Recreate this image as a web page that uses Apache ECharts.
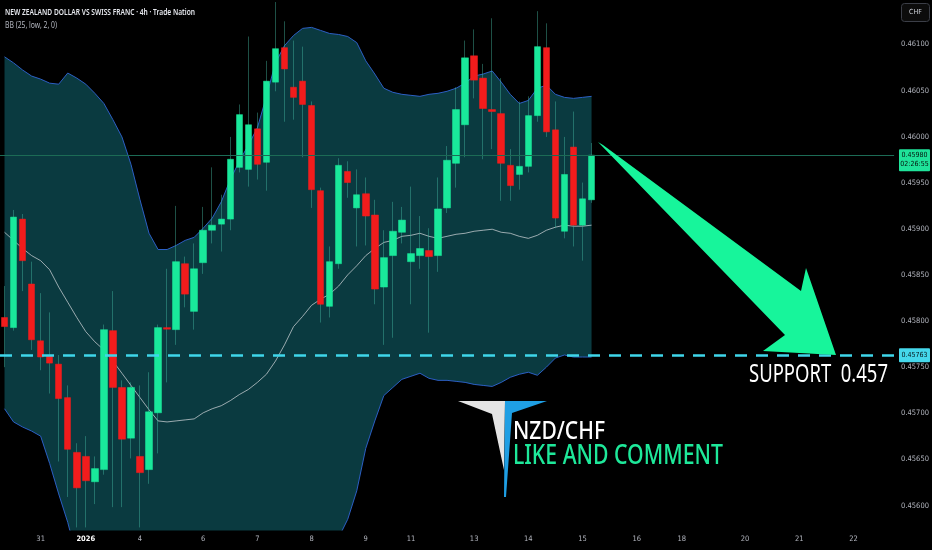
<!DOCTYPE html>
<html>
<head>
<meta charset="utf-8">
<script src="https://cdn.jsdelivr.net/npm/echarts@6/dist/echarts.min.js"></script>
<style>
  html, body { margin: 0; padding: 0; background: #000; }
  #chart { width: 932px; height: 550px; }
</style>
</head>
<body>
<div id="chart"></div>
<script>
// NZD/CHF 4h candles
var openP = [0.458040, 0.457930, 0.459107, 0.458403, 0.457787, 0.457622, 0.457534, 0.457171, 0.456577, 0.456533,
    0.456258, 0.456390, 0.457897, 0.457281, 0.456731, 0.456533, 0.456390, 0.457006, 0.457930, 0.457908,
    0.458623, 0.458106, 0.458634, 0.458986, 0.459052, 0.459107, 0.459668, 0.459646, 0.460086, 0.459723,
    0.460592, 0.460966, 0.460537, 0.460603, 0.460339, 0.459415, 0.458161, 0.458623, 0.459624, 0.459228,
    0.459382, 0.459151, 0.458370, 0.458711, 0.458964, 0.458645, 0.458711, 0.458766, 0.458711, 0.459228,
    0.459712, 0.460130, 0.460878, 0.460636, 0.460295, 0.460251, 0.459690, 0.459591, 0.459679, 0.460229,
    0.460966, 0.460075, 0.458975, 0.459888, 0.459041, 0.459316];
var closeP = [0.457941, 0.459129, 0.458656, 0.457798, 0.457611, 0.457545, 0.457160, 0.456610, 0.456192, 0.456269,
    0.456401, 0.457908, 0.457281, 0.456720, 0.457281, 0.456357, 0.457017, 0.457930, 0.457913, 0.458645,
    0.458293, 0.458568, 0.458986, 0.459041, 0.459107, 0.459756, 0.460240, 0.460130, 0.459701, 0.460603,
    0.460955, 0.460735, 0.460427, 0.460350, 0.459426, 0.458183, 0.458645, 0.459690, 0.459503, 0.459371,
    0.459140, 0.458348, 0.458689, 0.458975, 0.459096, 0.458733, 0.458788, 0.458700, 0.459217, 0.459745,
    0.460295, 0.460856, 0.460614, 0.460306, 0.460273, 0.459712, 0.459470, 0.459679, 0.460229, 0.460977,
    0.460053, 0.459118, 0.459591, 0.459041, 0.459327, 0.459800];
var highP = [0.458381, 0.459206, 0.459162, 0.458645, 0.458304, 0.458095, 0.457633, 0.457303, 0.456676, 0.456753,
    0.456533, 0.457963, 0.458326, 0.457358, 0.457336, 0.457303, 0.457446, 0.457963, 0.458568, 0.459250,
    0.458700, 0.458843, 0.459239, 0.459668, 0.459371, 0.459998, 0.460350, 0.461087, 0.460262, 0.460823,
    0.461461, 0.461252, 0.461043, 0.460977, 0.460383, 0.459448, 0.458810, 0.459767, 0.459734, 0.459646,
    0.459558, 0.459316, 0.458986, 0.459294, 0.459239, 0.459459, 0.459140, 0.459008, 0.459558, 0.459899,
    0.460537, 0.461043, 0.461164, 0.460790, 0.461285, 0.460636, 0.459866, 0.460383, 0.460438, 0.461362,
    0.461230, 0.460383, 0.459998, 0.460273, 0.459503, 0.459932];
var lowP = [0.457501, 0.457897, 0.458326, 0.457688, 0.457468, 0.457215, 0.456478, 0.456093, 0.455763, 0.455763,
    0.456016, 0.456335, 0.455983, 0.455983, 0.456511, 0.455763, 0.456236, 0.456566, 0.457336, 0.457743,
    0.458150, 0.457908, 0.458513, 0.458843, 0.458755, 0.458986, 0.459613, 0.459459, 0.459536, 0.459415,
    0.460493, 0.460163, 0.460185, 0.459778, 0.459228, 0.457985, 0.458040, 0.458568, 0.459338, 0.458810,
    0.458821, 0.458183, 0.457743, 0.457820, 0.458843, 0.458183, 0.458568, 0.457875, 0.458535, 0.459173,
    0.459448, 0.459778, 0.460416, 0.459756, 0.459866, 0.459305, 0.459305, 0.459426, 0.459613, 0.460163,
    0.459998, 0.459008, 0.458898, 0.458810, 0.458656, 0.459283];

// Bollinger bands BB(25, low, 2, 0)
var bbUpper = [0.460867, 0.460801, 0.460724, 0.460658, 0.460625, 0.460581, 0.460570, 0.460691, 0.460636, 0.460570,
    0.460471, 0.460361, 0.460185, 0.459998, 0.459701, 0.459316, 0.458953, 0.458777, 0.458777, 0.458821,
    0.458876, 0.458909, 0.459008, 0.459118, 0.459294, 0.459536, 0.459734, 0.459910, 0.460097, 0.460438,
    0.460801, 0.460988, 0.461098, 0.461175, 0.461186, 0.461153, 0.461120, 0.461109, 0.461087, 0.461021,
    0.460823, 0.460680, 0.460526, 0.460482, 0.460460, 0.460449, 0.460438, 0.460460, 0.460471, 0.460493,
    0.460526, 0.460581, 0.460658, 0.460680, 0.460713, 0.460592, 0.460460, 0.460361, 0.460394, 0.460526,
    0.460559, 0.460460, 0.460427, 0.460416, 0.460427, 0.460438];
var bbMid = [0.458964, 0.458876, 0.458788, 0.458711, 0.458656, 0.458557, 0.458370, 0.458205, 0.458040, 0.457886,
    0.457776, 0.457688, 0.457567, 0.457435, 0.457303, 0.457171, 0.457039, 0.456918, 0.456907, 0.456918,
    0.456929, 0.456940, 0.457006, 0.457050, 0.457083, 0.457138, 0.457204, 0.457259, 0.457336, 0.457424,
    0.457567, 0.457743, 0.457941, 0.458051, 0.458172, 0.458238, 0.458293, 0.458381, 0.458502, 0.458601,
    0.458711, 0.458788, 0.458854, 0.458876, 0.458920, 0.458931, 0.458953, 0.458920, 0.458898, 0.458920,
    0.458942, 0.458953, 0.458975, 0.458986, 0.458997, 0.458964, 0.458953, 0.458920, 0.458898, 0.458931,
    0.458986, 0.459019, 0.459041, 0.459030, 0.459030, 0.459041];
var bbLower = [0.457050, 0.456907, 0.456852, 0.456808, 0.456753, 0.456456, 0.456126, 0.455818, 0.455444, 0.455202,
    0.455081, 0.455015, 0.454949, 0.454872, 0.454905, 0.455026, 0.455125, 0.455059, 0.455037, 0.455015,
    0.454982, 0.454971, 0.455004, 0.454982, 0.454872, 0.454740, 0.454674, 0.454608, 0.454575, 0.454410,
    0.454333, 0.454498, 0.454784, 0.454927, 0.455158, 0.455323, 0.455466, 0.455653, 0.455851, 0.456159,
    0.456621, 0.456918, 0.457193, 0.457281, 0.457369, 0.457402, 0.457435, 0.457380, 0.457358, 0.457358,
    0.457347, 0.457336, 0.457314, 0.457303, 0.457292, 0.457336, 0.457391, 0.457424, 0.457446, 0.457413,
    0.457501, 0.457600, 0.457633, 0.457611, 0.457611, 0.457611];

var slotCount = 99;   // candles plus empty space on the right
var xTickIdx = [4, 9, 15, 22, 28, 34, 40, 45, 52, 58, 64, 70, 75, 82, 88, 94];
var xTickText = ['31', '2026', '4', '6', '7', '8', '9', '11', '13', '14', '15', '16', '18', '20', '21', '22'];
var yTicks = [0.456, 0.4565, 0.457, 0.4575, 0.458, 0.4585, 0.459, 0.4595, 0.460, 0.4605, 0.461];

var lastPrice = 0.45980;
var supportPrice = 0.45763;

var GREEN = '#19e89b';
var RED = '#f21c1c';
var WICK = 'rgba(70,190,165,0.85)';
var BAND_LINE = '#2c5fc4';
var BAND_FILL = '#0a3a40';
var AXIS_TXT = '#b2b5be';
var NARROW = '"Liberation Sans Narrow", "DejaVu Sans Condensed", Roboto, sans-serif';

var cats = [];
for (var i = 0; i < slotCount; i++) cats.push(String(i));

var wickData = [], bodyData = [], bandDiff = [];
for (var j = 0; j < openP.length; j++) {
    wickData.push([openP[j], closeP[j], lowP[j], highP[j]]);
    bodyData.push([openP[j], closeP[j], Math.min(openP[j], closeP[j]), Math.max(openP[j], closeP[j])]);
}
for (var k = 0; k < bbUpper.length; k++) {
    bandDiff.push(+(bbUpper[k] - bbLower[k]).toFixed(6));
}

function fitScale(text, font, width) {
    var ctx = document.createElement('canvas').getContext('2d');
    ctx.font = font;
    return width / ctx.measureText(text).width;
}

function fittedText(text, x, y, size, weight, color, width) {
    var font = weight + ' ' + size + 'px "Noto Sans"';
    return {
        type: 'text', x: x, y: y, z: 100,
        scaleX: fitScale(text, font, width),
        style: { text: text, font: font, fill: color, textAlign: 'left', textVerticalAlign: 'middle' }
    };
}

var chart = echarts.init(document.getElementById('chart'));

chart.setOption({
    backgroundColor: '#000',
    animation: false,
    grid: { left: -1, right: 35, top: 0, bottom: 20 },
    xAxis: {
        type: 'category',
        data: cats,
        boundaryGap: true,
        axisLine: { show: false },
        axisTick: { show: false },
        splitLine: { show: false },
        axisLabel: {
            interval: function (idx) { return xTickIdx.indexOf(idx) >= 0; },
            formatter: function (val, idx) {
                var n = xTickIdx.indexOf(Number(val));
                if (n < 0) return '';
                return xTickText[n] === '2026' ? '{b|2026}' : xTickText[n];
            },
            color: AXIS_TXT,
            fontSize: 7.5,
            fontFamily: NARROW,
            margin: 5,
            rich: { b: { color: '#ffffff', fontSize: 7.5, fontWeight: 'bold', fontFamily: NARROW } }
        }
    },
    yAxis: {
        type: 'value',
        position: 'right',
        min: 0.455735,
        max: 0.461483,
        axisLine: { show: false },
        axisTick: { show: false },
        splitLine: { show: false },
        axisLabel: {
            customValues: yTicks,
            formatter: function (v) { return v.toFixed(5); },
            color: AXIS_TXT,
            fontSize: 7.5,
            fontFamily: NARROW,
            margin: 7
        }
    },
    series: [
        {
            name: 'BB lower', type: 'line', data: bbLower, stack: 'bb',
            symbol: 'none', z: 1,
            lineStyle: { color: BAND_LINE, width: 1 }
        },
        {
            name: 'BB upper', type: 'line', data: bandDiff, stack: 'bb',
            symbol: 'none', z: 1,
            lineStyle: { color: BAND_LINE, width: 1 },
            areaStyle: { color: BAND_FILL, opacity: 1 }
        },
        {
            name: 'BB basis', type: 'line', data: bbMid,
            symbol: 'none', z: 2,
            lineStyle: { color: 'rgba(200,206,210,0.85)', width: 0.9 }
        },
        {
            name: 'wicks', type: 'candlestick', data: wickData,
            barWidth: 1, z: 3,
            itemStyle: { color: WICK, color0: WICK, borderColor: WICK, borderColor0: WICK, borderWidth: 0.5 }
        },
        {
            name: 'NZDCHF', type: 'candlestick', data: bodyData,
            barWidth: 7, z: 4,
            itemStyle: { color: GREEN, color0: RED, borderColor: GREEN, borderColor0: RED, borderWidth: 0.5 }
        },
        {
            // horizontal levels: last price and support
            name: 'levels', type: 'line', data: [], z: 5,
            markLine: {
                symbol: 'none', silent: true, precision: 5,
                label: { show: false },
                data: [
                    { yAxis: lastPrice, lineStyle: { color: '#1c6b55', width: 1, type: 'solid' } },
                    { yAxis: supportPrice, lineStyle: { color: '#3fd6ea', width: 2.5, type: [12, 9] } }
                ]
            }
        }
    ]
});

var yLast = chart.convertToPixel({ yAxisIndex: 0 }, lastPrice);
var ySup = chart.convertToPixel({ yAxisIndex: 0 }, supportPrice);

chart.setOption({
    graphic: [
        fittedText('NEW ZEALAND DOLLAR VS SWISS FRANC \u00b7 4h \u00b7 Trade Nation', 5, 13, 8.5, 600, '#e6e8ee', 190),
        fittedText('BB (25, low, 2, 0)', 5, 25.5, 8.5, 400, AXIS_TXT, 52),
        // currency button
        { type: 'rect', z: 100, shape: { x: 901.5, y: 3.5, width: 28, height: 18, r: 3 },
          style: { fill: '#0c0c0c', stroke: '#3b3e47', lineWidth: 1 } },
        { type: 'text', z: 101, x: 915.5, y: 12.5,
          style: { text: 'CHF', font: '7px ' + NARROW, fill: '#d1d4dc', textAlign: 'center', textVerticalAlign: 'middle' } },
        // last price tag
        { type: 'rect', z: 100, shape: { x: 899, y: yLast - 6, width: 31, height: 22, r: 1 },
          style: { fill: '#1fe39a' } },
        { type: 'text', z: 101, x: 914.5, y: yLast,
          style: { text: lastPrice.toFixed(5), font: '7px ' + NARROW, fill: '#06140e', textAlign: 'center', textVerticalAlign: 'middle' } },
        { type: 'text', z: 101, x: 914.5, y: yLast + 9.5,
          style: { text: '02:26:55', font: '7px ' + NARROW, fill: '#06140e', textAlign: 'center', textVerticalAlign: 'middle' } },
        // support tag
        { type: 'rect', z: 100, shape: { x: 899, y: ySup - 7, width: 31, height: 14, r: 1 },
          style: { fill: '#45d8ec' } },
        { type: 'text', z: 101, x: 914.5, y: ySup,
          style: { text: supportPrice.toFixed(5), font: '7px ' + NARROW, fill: '#06141a', textAlign: 'center', textVerticalAlign: 'middle' } },
        // big arrow towards the support
        { type: 'polygon', z: 90,
          shape: { points: [[598, 142], [603, 145], [801, 291], [806, 268], [836, 355], [763, 351], [785, 335]] },
          style: { fill: '#17f59b' } },
        fittedText('SUPPORT  0.457', 749, 375, 25, 400, '#ffffff', 139),
        // logo
        { type: 'polygon', z: 100, shape: { points: [[458, 401], [505, 401], [504, 470], [492, 414]] },
          style: { fill: '#e4e4e4' } },
        { type: 'polygon', z: 100, shape: { points: [[505, 401], [547, 401], [512, 413], [506, 497], [504, 497]] },
          style: { fill: '#1f9fe4' } },
        fittedText('NZD/CHF', 513, 432, 26, 500, '#ffffff', 92),
        fittedText('LIKE AND COMMENT', 513, 456, 27, 500, '#1ee89a', 210)
    ]
});
</script>
</body>
</html>
